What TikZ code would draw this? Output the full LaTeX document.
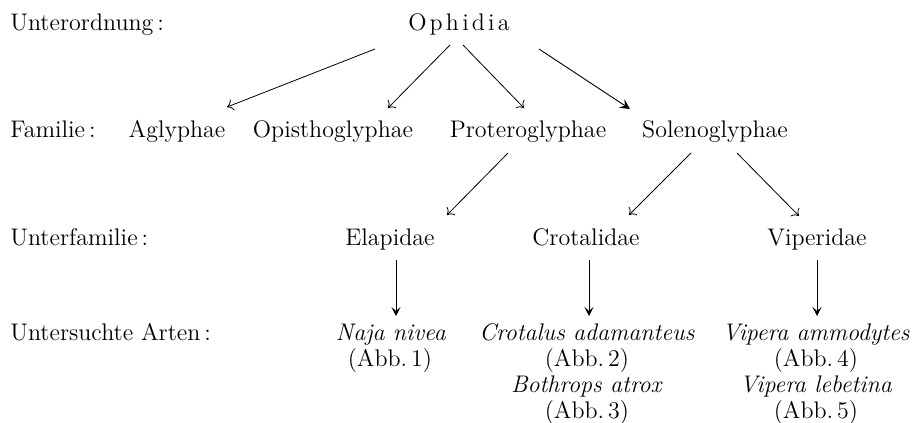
\documentclass[tikz,border=0pt]{standalone}
\usetikzlibrary{arrows.meta}
\begin{document}
\begin{tikzpicture}[x=0.5pt,y=-0.5pt,
  lbl/.style={inner sep=0pt,anchor=base west,font=\fontsize{12}{12.8}\selectfont},
  tx/.style={inner sep=0pt,anchor=base,font=\fontsize{12}{12.8}\selectfont},
  arr/.style={line width=0.4pt,-{To[length=3pt,width=6pt]}},
  arrb/.style={line width=0.45pt,-{Stealth[length=5pt,width=5pt,inset=2pt]}},
  arrv/.style={line width=0.4pt,-{Stealth[length=4.5pt,width=4.5pt,inset=2pt]}}]
\useasboundingbox (0,0) rectangle (916,423);
% row labels
\node[lbl] (l1) at (10,30) {Unterordnung\,:};
\node[lbl] (l2) at (10,137) {Familie\,:};
\node[lbl] (l3) at (10,245) {Unterfamilie\,:};
\node[lbl] (l4) at (10,340) {Untersuchte Arten\,:};
% tree
\node[tx] (oph) at (459,30) {O\kern1.6pt p\kern1.6pt h\kern1.6pt i\kern1.6pt d\kern1.6pt i\kern1.6pt a};
\node[tx] (agl) at (177,137) {Aglyphae};
\node[tx] (opi) at (333,137) {Opisthoglyphae};
\node[tx] (pro) at (528,137) {Proteroglyphae};
\node[tx] (sol) at (715,137) {Solenoglyphae};
\node[tx] (ela) at (390,245) {Elapidae};
\node[tx] (cro) at (586,245) {Crotalidae};
\node[tx] (vip) at (817,245) {Viperidae};
% species
\node[tx] (naja) at (391,340) {\textit{Naja nivea}};
\node[tx] (abb1) at (390,366) {(Abb.\,1)};
\node[tx] (crot) at (587,340) {\textit{Crotalus adamanteus}};
\node[tx] (abb2) at (587,366) {(Abb.\,2)};
\node[tx] (both) at (587,392) {\textit{Bothrops atrox}};
\node[tx] (abb3) at (587,418) {(Abb.\,3)};
\node[tx] (vamm) at (816,340) {\textit{Vipera ammodytes}};
\node[tx] (abb4) at (816,366) {(Abb.\,4)};
\node[tx] (vleb) at (816,392) {\textit{Vipera lebetina}};
\node[tx] (abb5) at (816,418) {(Abb.\,5)};
% connectors
\draw[arr] ([shift={(-84,19)}]oph.base) -- ([shift={(50,-30)}]agl.base);
\draw[arr] ([shift={(-9,15)}]oph.base) -- ([shift={(55,-29)}]opi.base);
\draw[arr] ([shift={(4,15)}]oph.base) -- ([shift={(-4,-29)}]pro.base);
\draw[arrb] ([shift={(80,19)}]oph.base) -- ([shift={(-85,-28)}]sol.base);
\draw[arr] ([shift={(-20,16)}]pro.base) -- ([shift={(57,-30)}]ela.base);
\draw[arr] ([shift={(-24,16)}]sol.base) -- ([shift={(43,-30)}]cro.base);
\draw[arr] ([shift={(22,16)}]sol.base) -- ([shift={(-18,-29)}]vip.base);
\draw[arrv] ([shift={(6,15)}]ela.base) -- ([shift={(5,-24)}]naja.base);
\draw[arrv] ([shift={(3,15)}]cro.base) -- ([shift={(2,-24)}]crot.base);
\draw[arrv] ([shift={(0,15)}]vip.base) -- ([shift={(1,-24)}]vamm.base);
\end{tikzpicture}
\end{document}
